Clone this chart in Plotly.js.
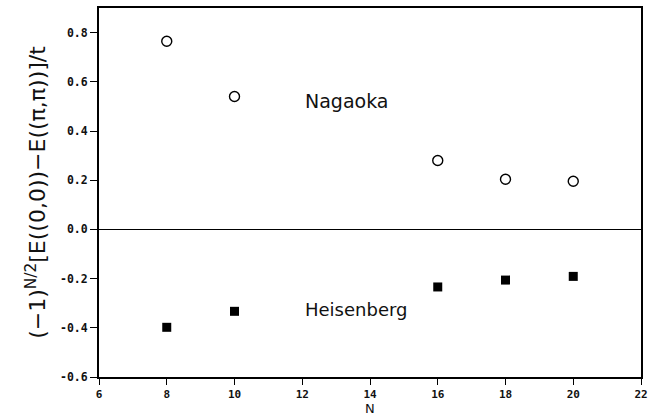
<!DOCTYPE html>
<html>
<head>
<meta charset="utf-8">
<script src="https://cdn.plot.ly/plotly-3.0.1.min.js"></script>
<style>html,body{margin:0;padding:0;background:#fff;}#chart{width:659px;height:417px;}</style>
</head>
<body>
<div id="chart"></div>
<script>
// Data
var sizesN = [8, 10, 16, 18, 20];
var nagaokaValues = [0.765, 0.54, 0.28, 0.204, 0.196];
var heisenbergValues = [-0.398, -0.333, -0.234, -0.206, -0.191];
var yTickValues = [-0.6, -0.4, -0.2, 0.0, 0.2, 0.4, 0.6, 0.8];
var yTickLabels = ["-0.6", "-0.4", "-0.2", "0.0", "0.2", "0.4", "0.6", "0.8"];
var xTickValues = [6, 8, 10, 12, 14, 16, 18, 20, 22];
var xTickLabels = ["6", "8", "10", "12", "14", "16", "18", "20", "22"];
var seriesLabels = ["Nagaoka", "Heisenberg"];
var xTitle = "N";
var labelAnchorN = 12.03;
var labelAnchorY = [0.52, -0.326];

var traces = [
  {
    x: sizesN, y: nagaokaValues, type: 'scatter', mode: 'markers', name: seriesLabels[0],
    marker: {symbol: 'circle-open', size: 10, color: '#000', line: {width: 1.4, color: '#000'}}
  },
  {
    x: sizesN, y: heisenbergValues, type: 'scatter', mode: 'markers', name: seriesLabels[1],
    marker: {symbol: 'square', size: 9, color: '#000', line: {width: 0}}
  }
];

var tickFont = {family: 'DejaVu Sans Mono, monospace', size: 11.5, color: '#111', weight: 'bold'};

var layout = {
  width: 659, height: 417,
  margin: {l: 98.5, r: 17.5, t: 7.5, b: 40},
  paper_bgcolor: '#fff', plot_bgcolor: '#fff',
  showlegend: false,
  xaxis: {
    range: [6, 22], tickmode: 'array', tickvals: xTickValues, ticktext: xTickLabels,
    ticks: 'outside', ticklen: 6, tickwidth: 1, tickcolor: '#000',
    showline: true, linewidth: 2, linecolor: '#000', mirror: true,
    showgrid: false, zeroline: false, tickfont: {family: 'DejaVu Sans Mono, monospace', size: 11, color: '#111', weight: 'bold'}
  },
  yaxis: {
    range: [-0.6, 0.9], tickmode: 'array', tickvals: yTickValues, ticktext: yTickLabels,
    ticks: 'outside', ticklen: 7, tickwidth: 1, tickcolor: '#000',
    showline: true, linewidth: 2, linecolor: '#000', mirror: true,
    showgrid: false, zeroline: true, zerolinecolor: '#000', zerolinewidth: 1,
    tickfont: tickFont,
    title: {text: '(\u22121)<sup>N/2</sup>[E((0,0))\u2212E((\u03c0,\u03c0))]/t', font: {family: 'DejaVu Sans, sans-serif', size: 22, color: '#111'}, standoff: 8}
  },
  annotations: [
    {x: labelAnchorN, y: labelAnchorY[0], xref: 'x', yref: 'y', text: seriesLabels[0], showarrow: false,
     xanchor: 'left', yanchor: 'middle', font: {family: 'DejaVu Sans, sans-serif', size: 19, color: '#111'}},
    {x: labelAnchorN, y: labelAnchorY[1], xref: 'x', yref: 'y', text: seriesLabels[1], showarrow: false,
     xanchor: 'left', yanchor: 'middle', font: {family: 'DejaVu Sans, sans-serif', size: 18, color: '#111'}},
    {x: 0.5, y: 0, xref: 'paper', yref: 'paper', text: xTitle, showarrow: false,
     xanchor: 'center', yanchor: 'bottom', yshift: -40, borderpad: 0,
     font: {family: 'DejaVu Sans, sans-serif', size: 13, color: '#111'}}
  ]
};

Plotly.newPlot('chart', traces, layout, {displayModeBar: false, staticPlot: true});
</script>
</body>
</html>
